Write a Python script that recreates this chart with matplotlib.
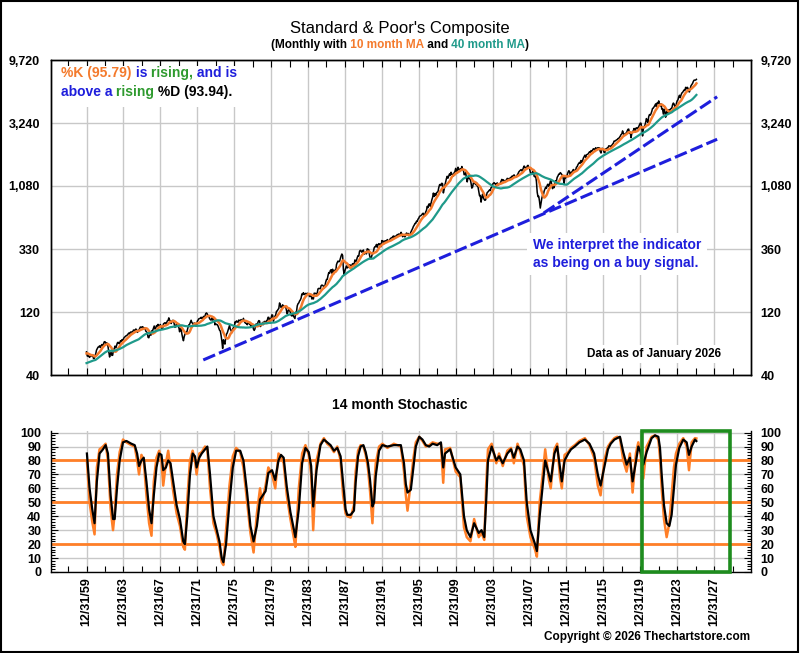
# S&P Composite, monthly, with 10/40 month MAs and a 14 month stochastic
import numpy as np
import pandas as pd
import matplotlib
matplotlib.use("Agg")
import matplotlib.pyplot as plt
from matplotlib.patches import Rectangle
from matplotlib.ticker import FixedLocator, NullLocator

plt.rcParams['font.family'] = ['Liberation Sans', 'DejaVu Sans']
NARROW = ['Liberation Sans Narrow', 'Liberation Sans', 'DejaVu Sans']

# monthly closes, Jan 1956 .. Jan 2026
closes_1950s = [
    43.82, 45.34, 48.48, 48.38, 45.20, 46.97, 49.39, 47.51, 45.35, 45.58, 45.08, 46.67,
    44.72, 43.26, 44.11, 45.74, 47.43, 47.37, 47.91, 45.22, 42.42, 41.06, 41.72, 39.99,
    41.70, 40.84, 42.10, 43.44, 44.09, 45.24, 47.19, 47.75, 50.06, 51.33, 52.48, 55.21,
    55.42, 55.41, 55.44, 57.59, 58.68, 58.47, 60.51, 59.60, 56.88, 57.52, 58.28, 59.89,
]
closes_1960s = [
    55.61, 56.12, 55.34, 54.37, 55.83, 56.92, 55.51, 56.96, 53.52, 53.39, 55.54, 58.11,
    61.78, 63.44, 65.06, 65.31, 66.56, 64.64, 66.76, 68.07, 66.73, 68.62, 71.32, 71.55,
    68.84, 69.96, 69.55, 65.24, 59.63, 54.75, 58.23, 59.12, 56.27, 56.52, 62.26, 63.10,
    66.20, 64.29, 66.57, 69.80, 70.80, 69.37, 69.13, 72.50, 71.70, 74.01, 73.23, 75.02,
    77.04, 77.80, 78.98, 79.46, 80.37, 81.69, 83.18, 81.83, 84.18, 84.86, 84.42, 84.75,
    87.56, 87.43, 86.16, 89.11, 88.42, 84.12, 85.25, 87.17, 89.96, 92.42, 91.61, 92.43,
    92.88, 91.22, 89.23, 91.06, 86.13, 84.74, 83.60, 77.10, 76.56, 80.20, 80.45, 80.33,
    86.61, 86.78, 90.20, 94.01, 89.08, 90.64, 94.75, 93.64, 96.71, 93.90, 94.00, 96.47,
    92.24, 89.36, 90.20, 97.59, 98.68, 99.58, 97.74, 98.86, 102.67, 103.41, 108.37, 103.86,
    103.01, 98.13, 101.51, 103.69, 103.46, 97.71, 91.83, 95.51, 93.12, 97.24, 93.81, 92.06,
]
closes_1970s = [
    85.02, 89.50, 89.63, 81.52, 76.55, 72.72, 78.05, 81.52, 84.21, 83.25, 87.20, 92.15,
    95.88, 96.75, 100.31, 103.95, 99.63, 98.70, 95.58, 99.03, 98.34, 94.23, 93.99, 102.09,
    103.94, 106.57, 107.20, 107.67, 109.53, 107.14, 107.39, 111.09, 110.55, 111.58, 116.67, 118.05,
    116.03, 111.68, 111.52, 106.97, 104.95, 104.26, 108.22, 104.25, 108.43, 108.29, 95.96, 97.55,
    96.57, 96.22, 93.98, 90.31, 87.28, 86.00, 79.31, 72.15, 63.54, 73.90, 69.97, 68.56,
    76.98, 81.59, 83.36, 87.30, 91.15, 95.19, 88.75, 86.88, 83.87, 89.04, 91.24, 90.19,
    100.86, 99.71, 102.77, 101.64, 100.18, 104.28, 103.44, 102.91, 105.24, 102.90, 102.10, 107.46,
    102.03, 99.82, 98.42, 98.44, 96.12, 100.48, 98.85, 96.77, 96.53, 92.34, 94.83, 95.10,
    89.25, 87.04, 89.21, 96.83, 97.24, 95.53, 100.68, 103.29, 102.54, 93.15, 94.70, 96.11,
    99.93, 96.28, 101.59, 101.76, 99.08, 102.91, 103.81, 109.32, 109.32, 101.82, 106.16, 107.94,
]
closes_1980s = [
    114.16, 113.66, 102.09, 106.29, 111.24, 114.24, 121.67, 122.38, 125.46, 127.47, 140.52, 135.76,
    129.55, 131.27, 136.00, 132.81, 132.59, 131.21, 130.92, 122.79, 116.18, 121.89, 126.35, 122.55,
    120.40, 113.11, 111.96, 116.44, 111.88, 109.61, 107.09, 119.51, 120.42, 133.71, 138.54, 140.64,
    145.30, 148.06, 152.96, 164.42, 162.39, 168.11, 162.56, 164.40, 166.07, 163.55, 166.40, 164.93,
    163.41, 157.06, 159.18, 160.05, 150.55, 153.18, 150.66, 166.68, 166.10, 166.09, 163.58, 167.24,
    179.63, 181.18, 180.66, 179.83, 189.55, 191.85, 190.92, 188.63, 182.08, 189.82, 202.17, 211.28,
    211.78, 226.92, 238.90, 235.52, 247.35, 250.84, 236.12, 252.93, 231.32, 243.98, 249.22, 242.17,
    274.08, 284.20, 291.70, 288.36, 290.10, 304.00, 318.66, 329.80, 321.83, 251.79, 230.30, 247.08,
    257.07, 267.82, 258.89, 261.33, 262.16, 273.50, 272.02, 261.52, 271.91, 278.97, 273.70, 277.72,
    297.47, 288.86, 294.87, 309.64, 320.52, 317.98, 346.08, 351.45, 349.15, 340.36, 345.99, 353.40,
]
closes_1990s = [
    329.08, 331.89, 339.94, 330.80, 361.23, 358.02, 356.15, 322.56, 306.05, 304.00, 322.22, 330.22,
    343.93, 367.07, 375.22, 375.35, 389.83, 371.16, 387.81, 395.43, 387.86, 392.46, 375.22, 417.09,
    408.79, 412.70, 403.69, 414.95, 415.35, 408.14, 424.21, 414.03, 417.80, 418.68, 431.35, 435.71,
    438.78, 443.38, 451.67, 440.19, 450.19, 450.53, 448.13, 463.56, 458.93, 467.83, 461.79, 466.45,
    481.61, 467.14, 445.77, 450.91, 456.50, 444.27, 458.26, 475.49, 462.69, 472.35, 453.69, 459.27,
    470.42, 487.39, 500.71, 514.71, 533.40, 544.75, 562.06, 561.88, 584.41, 581.50, 605.37, 615.93,
    636.02, 640.43, 645.50, 654.17, 669.12, 670.63, 639.95, 651.99, 687.33, 705.27, 757.02, 740.74,
    786.16, 790.82, 757.12, 801.34, 848.28, 885.14, 954.29, 899.47, 947.28, 914.62, 955.40, 970.43,
    980.28, 1049.34, 1101.75, 1111.75, 1090.82, 1133.84, 1120.67, 957.28, 1017.01, 1098.67, 1163.63, 1229.23,
    1279.64, 1238.33, 1286.37, 1335.18, 1301.84, 1372.71, 1328.72, 1320.41, 1282.71, 1362.93, 1388.91, 1469.25,
]
closes_2000s = [
    1394.46, 1366.42, 1498.58, 1452.43, 1420.60, 1454.60, 1430.83, 1517.68, 1436.51, 1429.40, 1314.95, 1320.28,
    1366.01, 1239.94, 1160.33, 1249.46, 1255.82, 1224.42, 1211.23, 1133.58, 1040.94, 1059.78, 1139.45, 1148.08,
    1130.20, 1106.73, 1147.39, 1076.92, 1067.14, 989.82, 911.62, 916.07, 815.28, 885.76, 936.31, 879.82,
    855.70, 841.15, 849.18, 916.92, 963.59, 974.50, 990.31, 1008.01, 995.97, 1050.71, 1058.20, 1111.92,
    1131.13, 1144.94, 1126.21, 1107.30, 1120.68, 1140.84, 1101.72, 1104.24, 1114.58, 1130.20, 1173.82, 1211.92,
    1181.27, 1203.60, 1180.59, 1156.85, 1191.50, 1191.33, 1234.18, 1220.33, 1228.81, 1207.01, 1249.48, 1248.29,
    1280.08, 1280.66, 1294.83, 1310.61, 1270.09, 1270.20, 1276.66, 1303.82, 1335.85, 1377.94, 1400.63, 1418.30,
    1438.24, 1406.82, 1420.86, 1482.37, 1530.62, 1503.35, 1455.27, 1473.99, 1526.75, 1549.38, 1481.14, 1468.36,
    1378.55, 1330.63, 1322.70, 1385.59, 1400.38, 1280.00, 1267.38, 1282.83, 1166.36, 968.75, 896.24, 903.25,
    825.88, 735.09, 797.87, 872.81, 919.14, 919.32, 987.48, 1020.62, 1057.08, 1036.19, 1095.63, 1115.10,
]
closes_2010s = [
    1073.87, 1104.49, 1169.43, 1186.69, 1089.41, 1030.71, 1101.60, 1049.33, 1141.20, 1183.26, 1180.55, 1257.64,
    1286.12, 1327.22, 1325.83, 1363.61, 1345.20, 1320.64, 1292.28, 1218.89, 1131.42, 1253.30, 1246.96, 1257.60,
    1312.41, 1365.68, 1408.47, 1397.91, 1310.33, 1362.16, 1379.32, 1406.58, 1440.67, 1412.16, 1416.18, 1426.19,
    1498.11, 1514.68, 1569.19, 1597.57, 1630.74, 1606.28, 1685.73, 1632.97, 1681.55, 1756.54, 1805.81, 1848.36,
    1782.59, 1859.45, 1872.34, 1883.95, 1923.57, 1960.23, 1930.67, 2003.37, 1972.29, 2018.05, 2067.56, 2058.90,
    1994.99, 2104.50, 2067.89, 2085.51, 2107.39, 2063.11, 2103.84, 1972.18, 1920.03, 2079.36, 2080.41, 2043.94,
    1940.24, 1932.23, 2059.74, 2065.30, 2096.95, 2098.86, 2173.60, 2170.95, 2168.27, 2126.15, 2198.81, 2238.83,
    2278.87, 2363.64, 2362.72, 2384.20, 2411.80, 2423.41, 2470.30, 2471.65, 2519.36, 2575.26, 2647.58, 2673.61,
    2823.81, 2713.83, 2640.87, 2648.05, 2705.27, 2718.37, 2816.29, 2901.52, 2913.98, 2711.74, 2760.17, 2506.85,
    2704.10, 2784.49, 2834.40, 2945.83, 2752.06, 2941.76, 2980.38, 2926.46, 2976.74, 3037.56, 3140.98, 3230.78,
]
closes_2020s = [
    3225.52, 2954.22, 2584.59, 2912.43, 3044.31, 3100.29, 3271.12, 3500.31, 3363.00, 3269.96, 3621.63, 3756.07,
    3714.24, 3811.15, 3972.89, 4181.17, 4204.11, 4297.50, 4395.26, 4522.68, 4307.54, 4605.38, 4567.00, 4766.18,
    4515.55, 4373.94, 4530.41, 4131.93, 4132.15, 3785.38, 4130.29, 3955.00, 3585.62, 3871.98, 4080.11, 3839.50,
    4076.60, 3970.15, 4109.31, 4169.48, 4179.83, 4450.38, 4588.96, 4507.66, 4288.05, 4193.80, 4567.80, 4769.83,
    4845.65, 5096.27, 5254.35, 5035.69, 5277.51, 5460.48, 5522.30, 5648.40, 5762.48, 5705.45, 6032.38, 5881.63,
    6040.53, 5954.50, 5611.85, 5569.06, 5911.69, 6204.95, 6339.39, 6460.26, 6688.46, 6840.20, 6849.09, 6845.50,
    6939.03,
]

# 14 month stochastic: time (year), %D (black), %K (orange)
stoch_years = [
    1960.04, 1960.33, 1960.62, 1960.87, 1961.12, 1961.41, 1961.78, 1962.07, 1962.32, 1962.61,
    1962.87, 1963.05, 1963.30, 1963.59, 1963.95, 1964.32, 1964.86, 1965.22, 1965.48, 1965.69,
    1965.95, 1966.20, 1966.49, 1966.78, 1967.04, 1967.29, 1967.58, 1967.87, 1968.12, 1968.31,
    1968.60, 1968.85, 1969.10, 1969.39, 1969.76, 1970.12, 1970.48, 1970.66, 1970.92, 1971.21,
    1971.50, 1971.75, 1971.93, 1972.22, 1972.48, 1972.84, 1973.09, 1973.38, 1973.75, 1974.11,
    1974.40, 1974.65, 1974.83, 1975.12, 1975.49, 1975.85, 1976.21, 1976.65, 1977.00, 1977.40,
    1977.76, 1978.10, 1978.46, 1978.80, 1979.00, 1979.40, 1979.70, 1980.10, 1980.45, 1980.80,
    1981.07, 1981.36, 1981.70, 1982.09, 1982.45, 1982.63, 1983.00, 1983.36, 1983.72, 1984.08,
    1984.34, 1984.56, 1984.92, 1985.35, 1985.72, 1986.08, 1986.44, 1986.81, 1987.17, 1987.53,
    1987.80, 1988.07, 1988.25, 1988.62, 1988.98, 1989.16, 1989.42, 1989.70, 1990.00, 1990.25,
    1990.50, 1990.72, 1990.98, 1991.16, 1991.34, 1991.70, 1992.06, 1992.60, 1993.30, 1994.06,
    1994.40, 1994.60, 1994.78, 1995.14, 1995.43, 1995.68, 1996.05, 1996.40, 1996.77, 1997.13,
    1997.50, 1998.00, 1998.40, 1998.65, 1998.85, 1999.40, 2000.00, 2000.50, 2000.90, 2001.20,
    2001.60, 2002.00, 2002.50, 2002.80, 2003.10, 2003.30, 2003.50, 2003.90, 2004.40, 2004.70,
    2005.10, 2005.60, 2006.00, 2006.30, 2006.70, 2007.00, 2007.40, 2007.70, 2008.10, 2008.60,
    2008.80, 2009.10, 2009.40, 2009.70, 2010.10, 2010.30, 2010.70, 2011.00, 2011.30, 2011.50,
    2011.80, 2012.20, 2012.50, 2012.90, 2013.40, 2014.00, 2014.50, 2015.00, 2015.40, 2015.70,
    2016.10, 2016.50, 2016.80, 2017.20, 2017.50, 2017.80, 2018.16, 2018.52, 2018.88, 2019.17,
    2019.53, 2019.79, 2020.04, 2020.33, 2020.69, 2021.23, 2021.60, 2021.96, 2022.14, 2022.32,
    2022.57, 2022.86, 2023.15, 2023.40, 2023.65, 2023.87, 2024.23, 2024.66, 2025.03, 2025.28,
    2025.57, 2025.93, 2026.08,
]
stoch_d = [
    85, 60, 45, 35, 65, 85, 88, 91, 85, 55,
    38, 38, 60, 80, 93, 94, 92, 91, 85, 76,
    80, 82, 65, 45, 35, 55, 75, 85, 84, 73,
    75, 80, 78, 65, 48, 38, 22, 20, 40, 70,
    85, 83, 75, 82, 85, 88, 90, 70, 40, 30,
    22, 10, 7, 20, 50, 75, 87, 87, 80, 57,
    33, 22, 33, 52, 54, 58, 71, 73, 66, 80,
    84, 82, 61, 43, 31, 25, 45, 78, 89, 86,
    76, 47, 73, 91, 95, 93, 91, 87, 89, 83,
    64, 45, 41, 41, 44, 64, 83, 90, 91, 86,
    78, 66, 47, 50, 69, 87, 91, 90, 91, 91,
    78, 63, 57, 59, 76, 90, 97, 95, 91, 90,
    92, 91, 93, 75, 85, 88, 75, 70, 40, 30,
    25, 35, 28, 30, 25, 50, 80, 90, 80, 83,
    78, 85, 88, 82, 90, 88, 80, 50, 30, 20,
    15, 40, 60, 80, 70, 65, 85, 90, 75, 65,
    80, 85, 88, 90, 93, 95, 92, 85, 70, 62,
    75, 88, 92, 95, 96, 97, 86, 77, 82, 65,
    79, 90, 86, 77, 86, 96, 98, 97, 89, 70,
    48, 35, 33, 41, 60, 77, 89, 95, 93, 84,
    90, 95, 93.94,
]
stoch_k = [
    80, 50, 36, 27, 75, 88, 90, 92, 80, 45,
    30, 42, 70, 86, 95, 93, 91, 90, 80, 70,
    84, 80, 55, 35, 26, 65, 82, 87, 80, 62,
    78, 87, 74, 58, 42, 33, 18, 16, 52, 80,
    87, 80, 70, 85, 86, 90, 88, 60, 35, 27,
    18, 7, 5, 30, 62, 83, 89, 86, 75, 50,
    28, 14, 42, 60, 50, 62, 75, 70, 60, 85,
    83, 78, 55, 38, 25, 18, 60, 85, 91, 84,
    70, 30, 80, 92, 96, 92, 90, 86, 90, 80,
    55, 42, 40, 39, 48, 72, 87, 91, 90, 84,
    74, 58, 35, 60, 78, 90, 92, 89, 92, 90,
    72, 55, 44, 65, 82, 93, 97, 94, 90, 91,
    93, 92, 92, 64, 88, 89, 72, 68, 32, 25,
    22, 38, 25, 28, 23, 62, 88, 92, 78, 85,
    76, 87, 89, 78, 92, 86, 76, 40, 25, 16,
    11, 50, 68, 88, 66, 60, 88, 92, 68, 60,
    84, 86, 89, 91, 94, 96, 91, 82, 62, 55,
    80, 90, 93, 96, 97, 96, 80, 72, 85, 57,
    85, 93, 84, 67, 90, 97, 98, 95, 82, 60,
    38, 25, 35, 55, 75, 85, 92, 96, 90, 73,
    93, 96, 95.79,
]

first_year = 1956
shown_from = 1960.0          # first point drawn: 12/31/59

price_ticks = [40, 120, 360, 1080, 3240, 9720]
price_labels_left = ['40', '120', '330', '1,080', '3,240', '9,720']
price_labels_right = ['40', '120', '360', '1,080', '3,240', '9,720']
stoch_levels = [20, 50, 80]

# trendlines drawn on the chart (year, level)
trend_a_years = [1972.65, 2028.33]
trend_a_values = [52, 2440]
trend_b_years = [2009.55, 2028.33]
trend_b_values = [675, 5120]

# green highlight in the stochastic panel
box_years = [2020.17, 2029.75]
box_top = 101.5

closes = np.array(closes_1950s + closes_1960s + closes_1970s + closes_1980s
                  + closes_1990s + closes_2000s + closes_2010s + closes_2020s)
dates = first_year + np.arange(1, len(closes) + 1) / 12.0
s = pd.Series(closes)
ma10 = s.rolling(10).mean().values
ma40 = s.rolling(40).mean().values
show = dates >= shown_from - 1e-6

ORANGE = '#F47A2C'
TEAL = '#1F9A8A'
BLUE = '#1E1EDC'
GREEN = '#2E9A2E'
KORANGE = '#FF7F27'
GRID = '#C8C8C8'

fig = plt.figure(figsize=(8, 6.53), dpi=100)
W, H = 800.0, 653.0
ax = fig.add_axes([51 / W, 1 - 375 / H, 700 / W, 315 / H])
ax2 = fig.add_axes([51 / W, 1 - 572 / H, 700 / W, 141.5 / H])

x_lim = (1956.15, 2032.0)
major_years = np.arange(1960, 2029, 4)
minor_years = np.arange(1958, 2032, 4)

# ---- price panel
ax.set_yscale('log')
ax.set_xlim(*x_lim)
ax.set_ylim(40, 9720)
ax.set_axisbelow(True)
ax.plot(dates[show], closes[show], color='black', lw=1.1, zorder=3)
ax.plot(dates[show], ma10[show], color=ORANGE, lw=1.8, zorder=4)
ax.plot(dates[show], ma40[show], color=TEAL, lw=1.6, zorder=5)
ax.plot(trend_a_years, trend_a_values, color=BLUE, lw=2.2, ls=(0, (4.2, 1.4)), zorder=6)
ax.plot(trend_b_years, trend_b_values, color=BLUE, lw=2.2, ls=(0, (4.2, 1.4)), zorder=6)

ax.xaxis.set_major_locator(FixedLocator(major_years))
ax.xaxis.set_minor_locator(FixedLocator(minor_years))
ax.tick_params(axis='x', which='both', direction='in', top=True, bottom=True,
               labelbottom=False, length=5, width=0.8)
ax.yaxis.set_major_locator(FixedLocator(price_ticks))
ax.yaxis.set_minor_locator(NullLocator())
ax.set_yticklabels(price_labels_left, fontweight='bold', fontfamily=NARROW, fontsize=9)
ax.tick_params(axis='y', direction='in', length=0, pad=8)
ax.grid(True, which='major', color=GRID, lw=1)

axr = ax.twinx()
axr.set_yscale('log')
axr.set_ylim(40, 9720)
axr.yaxis.set_major_locator(FixedLocator(price_ticks))
axr.yaxis.set_minor_locator(NullLocator())
axr.set_yticklabels(price_labels_right, fontweight='bold', fontfamily=NARROW, fontsize=9)
axr.tick_params(axis='y', direction='in', length=0, pad=7)

# white patch behind the %K text
ax.add_patch(Rectangle((0, 0.851), 0.284, 0.131, transform=ax.transAxes,
                       facecolor='white', edgecolor='none', zorder=1))


def color_text(x, y, parts, **kw):
    texts = [ax.text(x, y, parts[0][0], color=parts[0][1], transform=fig.transFigure,
                     va='center', ha='left', zorder=8, **kw)]
    for txt, col in parts[1:]:
        texts.append(ax.annotate(txt, xy=(1, 0), xycoords=texts[-1], color=col,
                                 va='bottom', ha='left', zorder=8, **kw))
    return texts


color_text(61 / W, 1 - 73 / H, [('%K (95.79)', ORANGE), (' is', BLUE),
                                 (' rising,', GREEN), (' and is', BLUE)],
           fontsize=10, fontweight='bold')
color_text(61 / W, 1 - 92 / H, [('above a', BLUE), (' rising', GREEN),
                                 (' %D (93.94).', 'black')],
           fontsize=10, fontweight='bold')

ax.text(533 / W, 1 - 254 / H, 'We interpret the indicator\nas being on a buy signal.',
        transform=fig.transFigure, color=BLUE, fontsize=10, fontweight='bold',
        ha='left', va='center', linespacing=1.3, zorder=2,
        bbox=dict(facecolor='white', edgecolor='none', pad=4))
ax.text(587 / W, 1 - 354 / H, 'Data as of January 2026', transform=fig.transFigure,
        color='black', fontsize=8.5, fontweight='bold', ha='left', va='center', zorder=2,
        bbox=dict(facecolor='white', edgecolor='none', pad=2))

# ---- stochastic panel
ax2.set_xlim(*x_lim)
ax2.set_ylim(0, box_top)
ax2.set_axisbelow(True)
for lvl in stoch_levels:
    ax2.axhline(lvl, color=KORANGE, lw=2, zorder=2)
ax2.plot(stoch_years, stoch_k, color=KORANGE, lw=1.8, zorder=3)
ax2.plot(stoch_years, stoch_d, color='black', lw=1.6, zorder=4)
ax2.add_patch(Rectangle((box_years[0], 0), box_years[1] - box_years[0], box_top,
                        facecolor='none', edgecolor='#1E8C1E', lw=2.6, zorder=5,
                        clip_on=False))

ax2.xaxis.set_major_locator(FixedLocator(major_years))
ax2.xaxis.set_minor_locator(FixedLocator(minor_years))
ax2.set_xticklabels(['12/31/%02d' % ((y - 1) % 100) for y in major_years], rotation=90,
                    fontweight='bold', fontfamily=NARROW, fontsize=9)
ax2.tick_params(axis='x', which='both', direction='in', length=4, width=0.8, pad=4)
ax2.yaxis.set_major_locator(FixedLocator(np.arange(0, 101, 10)))
ax2.yaxis.set_minor_locator(FixedLocator(np.arange(0, 101, 2)))
ax2.set_yticklabels([str(v) for v in range(0, 101, 10)], fontweight='bold',
                    fontfamily=NARROW, fontsize=9)
ax2.tick_params(axis='y', which='both', direction='in', left=True, right=True,
                labelright=True, width=0.8, pad=7)
ax2.tick_params(axis='y', which='major', length=5)
ax2.tick_params(axis='y', which='minor', length=3)
ax2.grid(True, which='major', color=GRID, lw=1)
ax2.spines['top'].set_visible(False)

for a in (ax, ax2, axr):
    for sp in a.spines.values():
        sp.set_linewidth(1)

# ---- titles
fig.text(0.5, 1 - 28 / H, "Standard & Poor's Composite", ha='center', va='center',
         fontsize=12)
sub = color_text(0.5, 1 - 45 / H, [('(Monthly with', 'black'), (' 10 month MA', ORANGE),
                                   (' and', 'black'), (' 40 month MA', TEAL), (')', 'black')],
                 fontsize=8.5, fontweight='bold')
fig.text(0.5, 1 - 405 / H, '14 month Stochastic', ha='center', va='center',
         fontsize=10, fontweight='bold')
fig.text(750 / W, 1 - 637 / H, 'Copyright \u00a9 2026 Thechartstore.com', ha='right',
         va='center', fontsize=8.5, fontweight='bold', family=NARROW)

fig.patches.append(Rectangle((0.001, 0.0015), 0.997, 0.997, transform=fig.transFigure,
                             fill=False, edgecolor='black', lw=1.5))

# center the colored subtitle
fig.canvas.draw()
r = fig.canvas.get_renderer()
left = sub[0].get_window_extent(r).x0
right = sub[-1].get_window_extent(r).x1
sub[0].set_x(0.5 - (right - left) / 2 / W)

fig.savefig('out.png', dpi=100, facecolor='white')
